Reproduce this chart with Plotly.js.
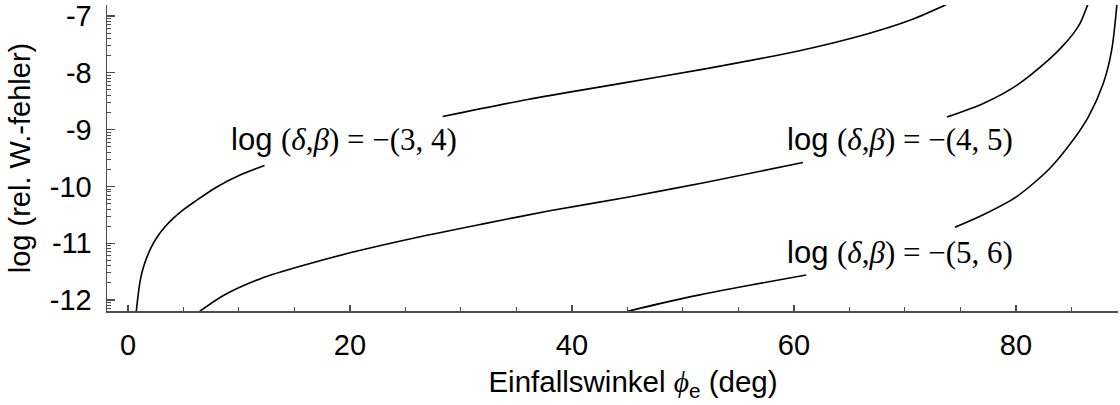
<!DOCTYPE html>
<html>
<head>
<meta charset="utf-8">
<script src="https://cdn.plot.ly/plotly-3.0.1.min.js"></script>
<style>
  html, body { margin: 0; padding: 0; background: #ffffff; }
  #chart { width: 1120px; height: 405px; }
</style>
</head>
<body>
<div id="chart"></div>
<script>
// ---- Data (angle in deg, log10 of relative error) ----
// Curve log(delta,beta) = -(3,4); null marks the gap left for its label
const angle34 = [0.72, 0.9, 1.1, 1.35, 1.7, 2.1, 2.6, 3.3, 4.1, 5.0, 6.0, 8.0, 10.1, 12.3, null,
                 28.35, 36.0, 44.3, 52.0, 60.5, 66.5, 70.5, 73.7];
const err34   = [-12.25, -11.94, -11.66, -11.45, -11.25, -11.07, -10.90, -10.72, -10.56, -10.41, -10.27, -10.01, -9.80, -9.63, null,
                 -8.77, -8.47, -8.19, -7.93, -7.61, -7.32, -7.07, -6.80];

// Curve log(delta,beta) = -(4,5)
const angle45 = [6.46, 8.6, 12.0, 16.0, 20.0, 26.0, 32.0, 38.0, 45.0, 52.0, 60.8, null,
                 73.78, 77.05, 80.06, 83.06, 84.2, 85.16, 85.77, 86.5];
const err45   = [-12.20, -11.92, -11.62, -11.38, -11.17, -10.90, -10.66, -10.43, -10.19, -9.93, -9.58, null,
                 -8.78, -8.54, -8.22, -7.75, -7.53, -7.31, -7.13, -6.78];

// Curve log(delta,beta) = -(5,6)
const angle56 = [45.02, 48.0, 51.5, 56.0, 61.1, null,
                 74.5, 77.05, 80.06, 83.06, 85.16, 86.51, 87.86, 88.62, 89.1];
const err56   = [-12.20, -12.06, -11.91, -11.74, -11.56, null,
                 -10.72, -10.50, -10.18, -9.68, -9.18, -8.78, -8.19, -7.60, -6.78];

// Curve labels and where they sit (data coords of their left/middle)
const curveLabels = ['-(3, 4)', '-(4, 5)', '-(5, 6)'];
const labelX = [9.1, 59.2, 59.2];
const labelY = [-9.17, -9.17, -11.17];

// Axis ticks
const xTickVals = [0, 20, 40, 60, 80];
const xTickText = ['0', '20', '40', '60', '80'];
const yTickVals = [-12, -11, -10, -9, -8, -7];
const yTickText = ['-12', '-11', '-10', '-9', '-8', '-7'];

// logarithmic sub-ticks inside every decade
const yMinorVals = [];
for (let n = -13; n <= -7; n++) {
  for (let k = 2; k <= 9; k++) yMinorVals.push(n + Math.log10(k));
}

const sans = "'Liberation Sans', Arial, Helvetica, sans-serif";

function labelHtml(t) {
  return 'log <span style="font-family:Liberation Serif">(<i>δ</i>,<i>β</i>) = ' +
         t.replace('-', '−') + '</span>';
}

const traces = [
  { x: angle34, y: err34, name: curveLabels[0] },
  { x: angle45, y: err45, name: curveLabels[1] },
  { x: angle56, y: err56, name: curveLabels[2] }
].map(t => Object.assign(t, {
  type: 'scatter', mode: 'lines',
  line: { color: '#000000', width: 1.6, shape: 'spline', smoothing: 0.8 },
  connectgaps: false, hoverinfo: 'skip', showlegend: false
}));

const annotations = curveLabels.map((t, i) => ({
  x: labelX[i], y: labelY[i], xref: 'x', yref: 'y',
  xanchor: 'left', yanchor: 'middle',
  text: labelHtml(t), showarrow: false,
  font: { family: sans, size: 31, color: '#000000' }
}));

const axisColor = '#4d4d4d';
const layout = {
  width: 1120, height: 405,
  margin: { l: 107, r: 2, t: 5, b: 94, pad: 0 },
  paper_bgcolor: '#ffffff', plot_bgcolor: '#ffffff',
  font: { family: sans, color: '#000000' },
  showlegend: false,
  xaxis: {
    range: [-1.89, 89.19],
    showgrid: false, zeroline: false,
    showline: true, linecolor: axisColor, linewidth: 1.5,
    ticks: 'inside', ticklen: 6, tickwidth: 1.2, tickcolor: axisColor,
    tickmode: 'array', tickvals: xTickVals, ticktext: xTickText,
    tickfont: { family: sans, size: 29, color: '#000000' },
    ticklabelstandoff: 8,
    minor: { tickmode: 'linear', tick0: 0, dtick: 5, ticks: 'inside', ticklen: 4, tickwidth: 1, tickcolor: axisColor, showgrid: false },
    title: {
      text: '&nbsp;&nbsp;&nbsp;&nbsp;&nbsp;Einfallswinkel <span style="font-family:Liberation Serif"><i>ϕ</i></span><sub>e</sub> (deg)',
      font: { family: sans, size: 29.5, color: '#000000' },
      standoff: 11
    }
  },
  yaxis: {
    range: [-12.194, -6.806],
    showgrid: false, zeroline: false,
    showline: true, linecolor: axisColor, linewidth: 1.5,
    ticks: 'inside', ticklen: 8, tickwidth: 1.2, tickcolor: axisColor,
    tickmode: 'array', tickvals: yTickVals, ticktext: yTickText,
    tickfont: { family: sans, size: 29, color: '#000000' },
    ticklabelstandoff: 8,
    minor: { tickmode: 'array', tickvals: yMinorVals, ticks: 'inside', ticklen: 4, tickwidth: 1, tickcolor: axisColor, showgrid: false },
    title: {
      text: 'log (rel. W.-fehler)',
      font: { family: sans, size: 29, color: '#000000' },
      standoff: 10
    }
  },
  annotations: annotations
};

Plotly.newPlot('chart', traces, layout, { staticPlot: true, displayModeBar: false });
</script>
</body>
</html>
